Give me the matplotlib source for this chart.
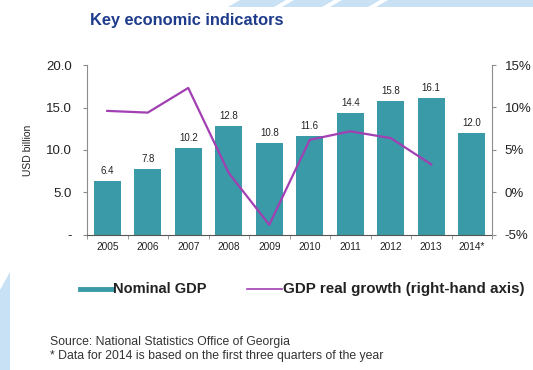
import numpy as np
import matplotlib
matplotlib.use("Agg")
import matplotlib.pyplot as plt
from matplotlib.patches import Polygon
from matplotlib.lines import Line2D

plt.rcParams["font.family"] = ["Liberation Sans", "DejaVu Sans"]

years = ["2005", "2006", "2007", "2008", "2009", "2010", "2011", "2012", "2013", "2014*"]
nominal_gdp = [6.4, 7.8, 10.2, 12.8, 10.8, 11.6, 14.4, 15.8, 16.1, 12.0]
real_growth = [9.6, 9.4, 12.3, 2.3, -3.8, 6.2, 7.2, 6.4, 3.3]  # % , no 2014 value

left_ticks = [0, 5, 10, 15, 20]
left_labels = ["-", "5.0", "10.0", "15.0", "20.0"]
right_ticks = [-5, 0, 5, 10, 15]
right_labels = ["-5%", "0%", "5%", "10%", "15%"]

bar_color = "#3a9aa7"
line_color = "#a23fb3"
axis_gray = "#8c8c8c"
band_blue = "#c8e1f4"
text_dark = "#222222"

W, H = 533, 370
fig = plt.figure(figsize=(W / 100, H / 100), dpi=100)
fig.patch.set_facecolor("white")

def px(x, y):
    return (x / W, 1 - y / H)

# light blue decorative band at the top with slanted white gaps
band = [(228, 7), (240, 0), (533, 0), (533, 7)]
fig.patches.append(Polygon([px(*p) for p in band], closed=True, transform=fig.transFigure,
                           facecolor=band_blue, edgecolor="none", zorder=0))
for gx in [274, 322, 368]:
    gap = [(gx, 7), (gx + 12, 0), (gx + 20, 0), (gx + 8, 7)]
    fig.patches.append(Polygon([px(*p) for p in gap], closed=True, transform=fig.transFigure,
                               facecolor="white", edgecolor="none", zorder=0))
# strip on the left edge
strip = [(0, 290), (10, 272), (10, 370), (0, 370)]
fig.patches.append(Polygon([px(*p) for p in strip], closed=True, transform=fig.transFigure,
                           facecolor=band_blue, edgecolor="none", zorder=0))

ax = fig.add_axes([87 / W, 1 - 235 / H, (492 - 87) / W, (235 - 65) / H])
ax.patch.set_alpha(0)
x = np.arange(len(years))
bars = ax.bar(x, nominal_gdp, width=0.67, color=bar_color, zorder=2)
for xi, v in zip(x, nominal_gdp):
    ax.text(xi, v + 0.6, f"{v:.1f}", ha="center", va="bottom", fontsize=7, color=text_dark)

ax.set_xlim(-0.5, len(years) - 0.5)
ax.set_ylim(0, 20)
ax.set_yticks(left_ticks)
ax.set_yticklabels(left_labels, fontsize=9.5, color=text_dark)
ax.set_xticks(x)
ax.set_xticklabels(years, fontsize=7.3, color=text_dark)
ax.set_xticks(np.arange(-0.5, len(years), 1), minor=True)
ax.tick_params(axis="x", which="major", length=0, pad=5)
ax.tick_params(axis="x", which="minor", length=3, color=axis_gray, direction="out")
ax.tick_params(axis="y", length=3, color=axis_gray, pad=8)
for s in ["top", "right"]:
    ax.spines[s].set_visible(False)
ax.spines["left"].set_color(axis_gray)
ax.spines["bottom"].set_color("#555555")
ax.set_ylabel("USD billion", fontsize=7.5, color=text_dark, labelpad=9)

ax2 = ax.twinx()
ax2.plot(x[:len(real_growth)], real_growth, color=line_color, lw=1.6, zorder=3)
ax2.set_ylim(-5, 15)
ax2.set_yticks(right_ticks)
ax2.set_yticklabels(right_labels, fontsize=9.5, color=text_dark)
ax2.tick_params(axis="y", length=3, color=axis_gray, pad=6)
for s in ["top", "left", "bottom"]:
    ax2.spines[s].set_visible(False)
ax2.spines["right"].set_color(axis_gray)

fig.text(*px(90, 21), "Key economic indicators", fontsize=11.8, fontweight="bold",
         color="#1f3c8c", va="center")

# legend drawn by hand below the plot
fig.add_artist(Line2D([80 / W, 112 / W], [1 - 289 / H] * 2, color=bar_color, lw=3.5,
                      transform=fig.transFigure))
fig.text(*px(113, 289), "Nominal GDP", fontsize=10.5, fontweight="bold", color=text_dark, va="center")
fig.add_artist(Line2D([247 / W, 282 / W], [1 - 289 / H] * 2, color=line_color, lw=1.2,
                      transform=fig.transFigure))
fig.text(*px(283, 289), "GDP real growth (right-hand axis)", fontsize=10.9, fontweight="bold",
         color=text_dark, va="center")

fig.text(*px(50, 342), "Source: National Statistics Office of Georgia", fontsize=8.8,
         color="#333333", va="center")
fig.text(*px(50, 356), "* Data for 2014 is based on the first three quarters of the year", fontsize=8.8,
         color="#333333", va="center")

fig.savefig("out.png", dpi=100)
